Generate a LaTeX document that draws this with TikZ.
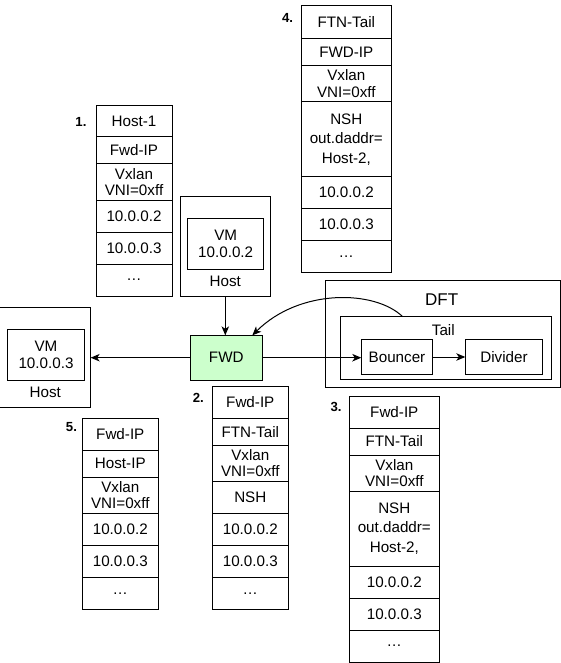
\documentclass[tikz,border=0pt]{standalone}
\usepackage{fontspec}
\setmainfont{Liberation Sans}
\usetikzlibrary{arrows.meta,positioning}
\definecolor{fwdgreen}{HTML}{CCFFCC}
\tikzset{
  cell/.style={
      draw, line width=1pt, inner sep=0pt, outer sep=0pt,
      minimum width=76pt, minimum height=32pt, align=center,
      font=\fontsize{15.2}{16.3}\selectfont,
  },
  wide/.style={minimum width=90pt},
  thin/.style={minimum height=27pt},
  two/.style={minimum height=36pt},
  three/.style={minimum height=75pt, font=\fontsize{15.2}{19.5}\selectfont},
  box/.style={
      draw, line width=1pt, inner sep=0pt, outer sep=0pt, align=center,
      font=\fontsize{15.2}{16.3}\selectfont,
  },
  txt/.style={inner sep=0pt, font=\fontsize{15.2}{16.3}\selectfont},
  num/.style={inner sep=0pt, font=\fontsize{13.2}{15}\selectfont\bfseries},
  line/.style={
    draw, line width=1pt, -{Stealth[length=9pt,width=7.5pt,inset=2.5pt]},
  }
}

\begin{document}
\begin{tikzpicture}[x=1pt,y=-1pt]
\useasboundingbox (0,0) rectangle (561,663);

% packet 1
\node[num] (n1) at (81,121.7) {1.};
\node[cell, anchor=north, minimum height=31.3pt] (s1a) at (134,105.7) {Host-1};
\node[cell, thin, below=0pt of s1a] (s1b) {Fwd-IP};
\node[cell, two, below=0pt of s1b] (s1c) {Vxlan\\VNI=0xff};
\node[cell, below=0pt of s1c] (s1d) {10.0.0.2};
\node[cell, below=0pt of s1d] (s1e) {10.0.0.3};
\node[cell, below=0pt of s1e] (s1f) {…};

% packet 4
\node[num] (n4) at (287.5,17.5) {4.};
\node[cell, wide, anchor=north, minimum height=32.7pt] (s4a) at (346.3,6) {FTN-Tail};
\node[cell, wide, thin, below=0pt of s4a] (s4b) {FWD-IP};
\node[cell, wide, two, below=0pt of s4b] (s4c) {Vxlan\\VNI=0xff};
\node[cell, wide, three, below=0pt of s4c] (s4d) {NSH\\out.daddr=\\Host-2,};
\node[cell, wide, below=0pt of s4d] (s4e) {10.0.0.2};
\node[cell, wide, below=0pt of s4e] (s4f) {10.0.0.3};
\node[cell, wide, below=0pt of s4f] (s4g) {…};

% hosts and forwarder
\node[box, minimum width=90pt, minimum height=100pt] (host2) at (225.3,246.3) {};
\node[box, minimum width=76pt, minimum height=50.7pt] (vm2) at (225.7,243.7) {VM\\10.0.0.2};
\node[txt] (host2label) at (225.3,281.8) {Host};

\node[box, minimum width=90.7pt, minimum height=100pt] (host3) at (45.3,357.3) {};
\node[box, minimum width=77.4pt, minimum height=51pt] (vm3) at (46,354.8) {VM\\10.0.0.3};
\node[txt] (host3label) at (45.3,392.7) {Host};

\node[box, fill=fwdgreen, minimum width=72pt, minimum height=44.7pt] (fwd) at (226.3,357.7) {FWD};

% dft
\node[box, minimum width=234.7pt, minimum height=107.3pt] (dft) at (443.3,334.3) {};
\node[txt, font=\fontsize{17}{20}\selectfont] (dftlabel) at (441.7,299.3) {DFT};
\node[box, minimum width=210.7pt, minimum height=63.3pt] (tail) at (446.3,348.3) {};
\node[txt] (taillabel) at (443.3,330.3) {Tail};
\node[box, minimum width=71.4pt, minimum height=35.4pt] (bouncer) at (397,357) {Bouncer};
\node[box, minimum width=77.4pt, minimum height=35.4pt] (divider) at (504,357) {Divider};

\draw[line] (host2.south) -- (host2.south |- fwd.north);
\draw[line] (fwd.west) -- (fwd.west -| host3.east);
\draw[line] (fwd.east) -- (fwd.east -| bouncer.west);
\draw[line] (bouncer) -- (divider);
\draw[line] ([xshift=61.7pt]tail.north west) .. controls (375,290) and (300,288) .. ([xshift=-10pt]fwd.north east);

% packet 5
\node[num] (n5) at (71.5,427) {5.};
\node[cell, anchor=north] (s5a) at (120.3,418.3) {Fwd-IP};
\node[cell, thin, below=0pt of s5a] (s5b) {Host-IP};
\node[cell, two, below=0pt of s5b] (s5c) {Vxlan\\VNI=0xff};
\node[cell, below=0pt of s5c] (s5d) {10.0.0.2};
\node[cell, below=0pt of s5d] (s5e) {10.0.0.3};
\node[cell, below=0pt of s5e] (s5f) {…};

% packet 2
\node[num] (n2) at (198.3,397.5) {2.};
\node[cell, anchor=north] (s2a) at (250.3,386.3) {Fwd-IP};
\node[cell, thin, below=0pt of s2a] (s2b) {FTN-Tail};
\node[cell, two, below=0pt of s2b] (s2c) {Vxlan\\VNI=0xff};
\node[cell, below=0pt of s2c] (s2d) {NSH};
\node[cell, below=0pt of s2d] (s2e) {10.0.0.2};
\node[cell, below=0pt of s2e] (s2f) {10.0.0.3};
\node[cell, below=0pt of s2f] (s2g) {…};

% packet 3
\node[num] (n3) at (336,407) {3.};
\node[cell, wide, anchor=north] (s3a) at (394.3,396) {Fwd-IP};
\node[cell, wide, thin, below=0pt of s3a] (s3b) {FTN-Tail};
\node[cell, wide, two, below=0pt of s3b] (s3c) {Vxlan\\VNI=0xff};
\node[cell, wide, three, below=0pt of s3c] (s3d) {NSH\\out.daddr=\\Host-2,};
\node[cell, wide, below=0pt of s3d] (s3e) {10.0.0.2};
\node[cell, wide, below=0pt of s3e] (s3f) {10.0.0.3};
\node[cell, wide, below=0pt of s3f] (s3g) {…};
\end{tikzpicture}
\end{document}
